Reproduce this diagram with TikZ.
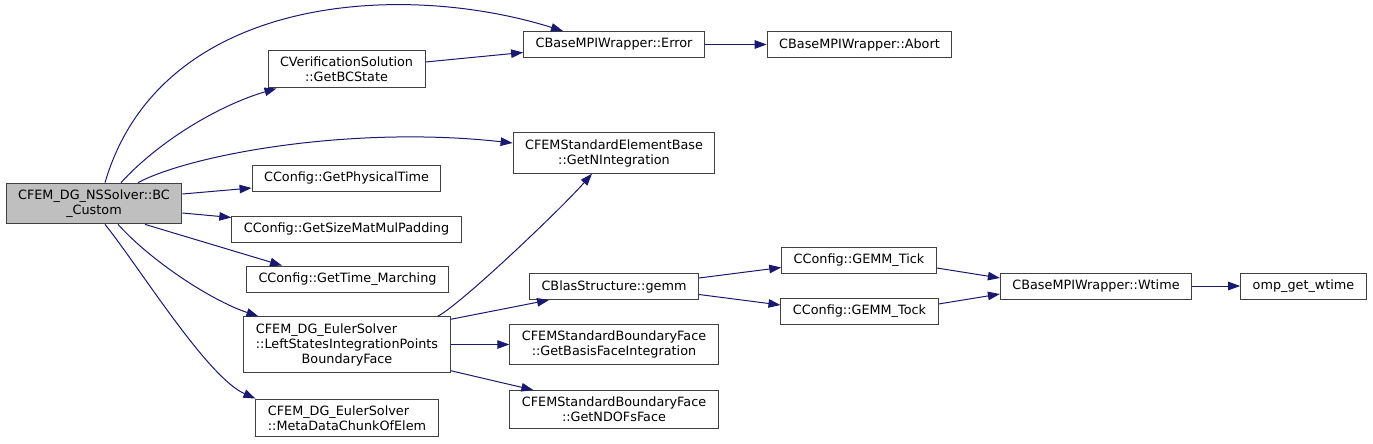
\documentclass[tikz,border=0pt]{standalone}
\usepackage{fontspec}
\usepackage{calc}
\setmainfont{DejaVu Sans}
\usetikzlibrary{arrows.meta}
\definecolor{edgeblue}{HTML}{191970}
\definecolor{boxline}{HTML}{404040}
\definecolor{curfill}{HTML}{BFBFBF}
\newcommand{\lalign}[2]{\makebox[\widthof{#1}][l]{#2}}

\begin{document}
\begin{tikzpicture}[
  x=1pt, y=-1pt,
  func/.style={draw=boxline, line width=1pt, align=center, inner xsep=12pt, inner ysep=6.5pt, minimum height=26pt, font=\fontsize{12.8}{15}\selectfont},
  cur/.style={func, fill=curfill},
  call/.style={-{Triangle[length=12pt, width=8.5pt]}, draw=edgeblue, line width=1pt}
]
  \useasboundingbox (0,0) rectangle (1373,444);

  % caller
  \node[cur] (root) at (94,203.5) {CFEM\_DG\_NSSolver::BC\\\_Custom};

  % first level
  \node[func] (bcstate) at (346.5,69) {CVerificationSolution\\::GetBCState};
  \node[func] (phys) at (346.5,178) {CConfig::GetPhysicalTime};
  \node[func] (pad) at (346.5,229) {CConfig::GetSizeMatMulPadding};
  \node[func] (march) at (347.5,279) {CConfig::GetTime\_Marching};
  \node[func] (left) at (347,344.5) {\lalign{::LeftStatesIntegrationPoints}{CFEM\_DG\_EulerSolver}\\::LeftStatesIntegrationPoints\\BoundaryFace};
  \node[func] (meta) at (347,418) {\lalign{::MetaDataChunkOfElem}{CFEM\_DG\_EulerSolver}\\::MetaDataChunkOfElem};

  % second level
  \node[func] (error) at (614,44.5) {CBaseMPIWrapper::Error};
  \node[func] (nint) at (614,153) {CFEMStandardElementBase\\::GetNIntegration};
  \node[func] (gemm) at (614,286.5) {CBlasStructure::gemm};
  \node[func] (basis) at (614,344.5) {CFEMStandardBoundaryFace\\::GetBasisFaceIntegration};
  \node[func] (ndofs) at (614,409.5) {CFEMStandardBoundaryFace\\::GetNDOFsFace};

  % third level and beyond
  \node[func] (abort) at (859.5,44.5) {CBaseMPIWrapper::Abort};
  \node[func] (tick) at (859,260.5) {CConfig::GEMM\_Tick};
  \node[func] (tock) at (859.5,311) {CConfig::GEMM\_Tock};
  \node[func] (wtime) at (1096,286) {CBaseMPIWrapper::Wtime};
  \node[func] (omp) at (1303.5,286) {omp\_get\_wtime};

  % calls from the caller
  \draw[call] ([xshift=11pt]root.north) .. controls (160,-5) and (400,-20) .. ([xshift=-51pt]error.north);
  \draw[call] ([xshift=27pt]root.north) .. controls (160,140) and (220,105) .. ([xshift=9pt]bcstate.south west);
  \draw[call] ([xshift=44pt]root.north) .. controls (190,155) and (350,125) .. ([yshift=10pt]nint.west);
  \draw[call] ([yshift=9.5pt]root.east) -- ([yshift=-10pt]phys.west);
  \draw[call] ([yshift=-9.5pt]root.east) -- ([yshift=-2pt]pad.north west);
  \draw[call] ([xshift=51pt]root.south) -- ([xshift=36pt]march.north west);
  \draw[call] ([xshift=24pt]root.south) .. controls (150,260) and (210,300) .. ([xshift=15pt]left.north west);
  \draw[call] ([xshift=11pt]root.south) .. controls (140,268) and (207,377) .. (meta.north west);

  % further calls
  \draw[call] ([yshift=7pt]bcstate.east) -- ([yshift=-8pt]error.west);
  \draw[call] (error) -- (abort);
  \draw[call] ([xshift=-13pt]left.north east) .. controls (460,305) and (560,210) .. ([xshift=-22pt]nint.south);
  \draw[call] ([yshift=-3pt]left.north east) -- ([xshift=20pt]gemm.south west);
  \draw[call] (left) -- (basis);
  \draw[call] ([yshift=2pt]left.south east) -- ([xshift=24pt]ndofs.north west);
  \draw[call] ([yshift=8.5pt]gemm.east) -- ([yshift=-7pt]tick.west);
  \draw[call] ([yshift=-8pt]gemm.east) -- ([yshift=6pt]tock.west);
  \draw[call] ([yshift=-7.5pt]tick.east) -- ([yshift=8pt]wtime.west);
  \draw[call] ([yshift=7pt]tock.east) -- ([yshift=-8pt]wtime.west);
  \draw[call] (wtime) -- (omp);
\end{tikzpicture}
\end{document}
